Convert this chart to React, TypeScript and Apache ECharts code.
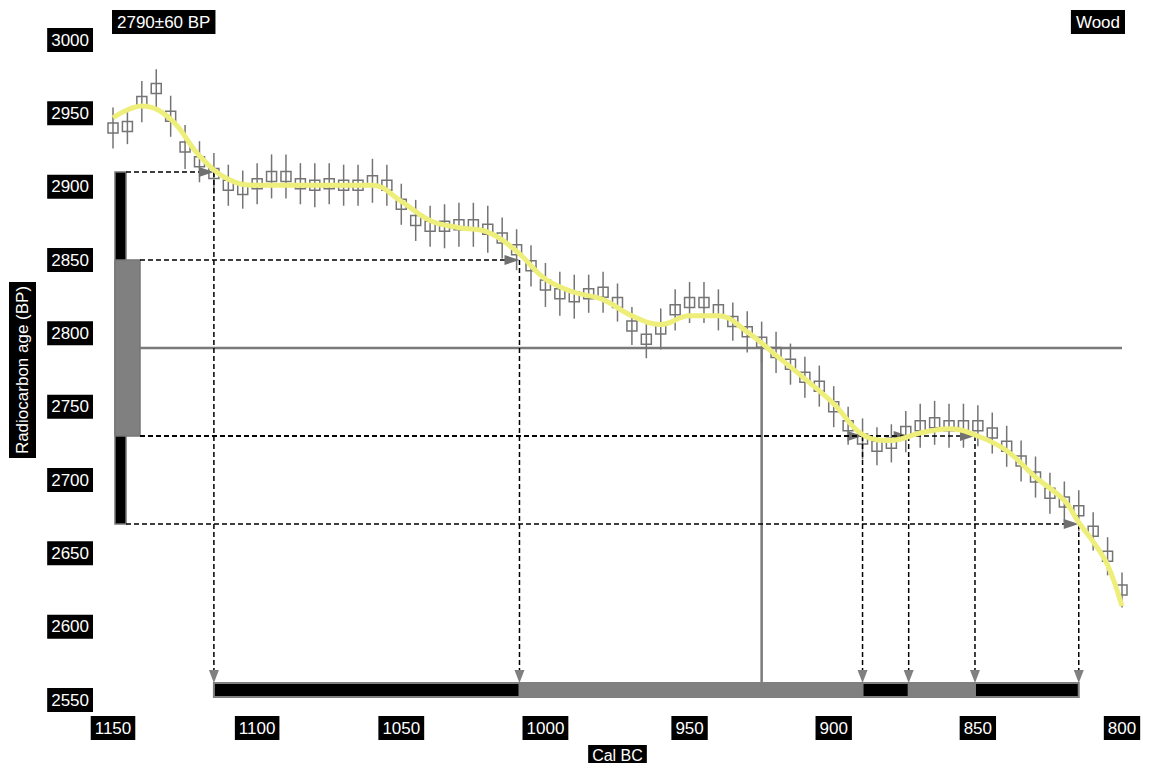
import React, { useEffect, useRef } from 'react';
import * as echarts from 'echarts';

// ---- sample ----
const SAMPLE_AGE = 2790;
const SAMPLE_ERR = 60;
const MATERIAL = 'Wood';

// ---- axes ----
const X_MIN = 800;
const X_MAX = 1150;
const Y_MIN = 2550;
const Y_MAX = 3000;
const TICK_STEP = 50;

// ---- calibration curve (yellow) ----
const curveYears = [1150, 1140, 1130, 1120, 1110, 1100, 1090, 1080, 1070, 1060, 1050, 1040, 1030, 1020, 1010, 1000, 990, 980, 970, 960, 950, 940, 930, 920, 910, 900, 890, 880, 870, 860, 850, 840, 830, 820, 815, 810, 805, 800];
const curveAges = [2947, 2955, 2946, 2921, 2905, 2901, 2901, 2901, 2901, 2901, 2890, 2877, 2872, 2869, 2856, 2837, 2828, 2823, 2812, 2806, 2812, 2812, 2801, 2785, 2769, 2752, 2731, 2727, 2732, 2735, 2730, 2720, 2702, 2686, 2671, 2658, 2642, 2614];

// ---- calibration data points (boxes with error bars) ----
const pointYears = [1150, 1145, 1140, 1135, 1130, 1125, 1120, 1115, 1110, 1105, 1100, 1095, 1090, 1085, 1080, 1075, 1070, 1065, 1060, 1055, 1050, 1045, 1040, 1035, 1030, 1025, 1020, 1015, 1010, 1005, 1000, 995, 990, 985, 980, 975, 970, 965, 960, 955, 950, 945, 940, 935, 930, 925, 920, 915, 910, 905, 900, 895, 890, 885, 880, 875, 870, 865, 860, 855, 850, 845, 840, 835, 830, 825, 820, 815, 810, 805, 800];
const pointAges = [2940, 2941, 2958, 2967, 2948, 2927, 2917, 2909, 2901, 2898, 2902, 2907, 2907, 2902, 2901, 2902, 2901, 2901, 2904, 2901, 2888, 2877, 2873, 2873, 2874, 2874, 2871, 2865, 2857, 2846, 2833, 2827, 2825, 2827, 2828, 2821, 2805, 2796, 2803, 2816, 2821, 2821, 2816, 2808, 2801, 2794, 2787, 2779, 2770, 2764, 2750, 2737, 2728, 2723, 2725, 2733, 2737, 2739, 2737, 2737, 2737, 2732, 2723, 2713, 2702, 2691, 2685, 2679, 2665, 2648, 2625];
const pointErrs = [14, 12, 14, 13, 14, 15, 14, 14, 14, 13, 14, 15, 15, 14, 15, 14, 14, 14, 15, 14, 14, 14, 14, 15, 15, 15, 16, 14, 14, 14, 15, 15, 15, 13, 14, 13, 13, 13, 14, 14, 14, 14, 14, 13, 14, 14, 14, 14, 14, 14, 14, 13, 14, 13, 13, 14, 15, 15, 15, 15, 14, 14, 14, 14, 14, 14, 14, 14, 13, 13, 12];

// ---- age ranges (BP) ----
const ageRange1Sigma = [2730, 2850];
const ageRange2Sigma = [2670, 2910];

// ---- calibrated ranges (BC) ----
const calRanges2Sigma = [[1115, 815]];
const calRanges1Sigma = [[1009, 890], [874, 851]];
const interceptYear = 925;

// range end points: [year, age, sigma]
const rangeEnds = [
  [1115, 2910, 2],
  [1009, 2850, 1],
  [890, 2730, 1],
  [874, 2730, 1],
  [851, 2730, 1],
  [815, 2670, 2],
];

const FONT = '"Liberation Sans", Arial, sans-serif';
const GREY = '#808080';
const BAR2_W = 11;
const BAR1_W = 25;
const BAR_OFF = 2;
const CALBAR_GAP = 17;
const CALBAR_H = 14;

const boxLabel = {
  color: '#fff',
  backgroundColor: '#000',
  padding: [4, 4, 3, 4],
  fontSize: 17,
  lineHeight: 17,
  fontFamily: FONT,
};

export default function App() {
  const ref = useRef<HTMLDivElement>(null);

  useEffect(() => {
    if (!ref.current) return;
    const chart = echarts.init(ref.current, null, { renderer: 'svg' });

    const option: any = {
      animation: false,
      backgroundColor: '#fff',
      title: [
        {
          text: `${SAMPLE_AGE}±${SAMPLE_ERR} BP`,
          left: 112,
          top: 10,
          padding: [4, 5, 3, 5],
          backgroundColor: '#000',
          textStyle: { color: '#fff', fontSize: 17, lineHeight: 17, fontWeight: 'normal', fontFamily: FONT },
        },
        {
          text: MATERIAL,
          right: 25,
          top: 10,
          padding: [4, 5, 3, 5],
          backgroundColor: '#000',
          textStyle: { color: '#fff', fontSize: 17, lineHeight: 17, fontWeight: 'normal', fontFamily: FONT },
        },
      ],
      grid: { left: 113, right: 28, top: 40, bottom: 63, containLabel: false, outerBoundsMode: 'none' },
      xAxis: {
        type: 'value',
        min: X_MIN,
        max: X_MAX,
        interval: TICK_STEP,
        inverse: true,
        axisLine: { show: false },
        axisTick: { show: false },
        splitLine: { show: false },
        axisLabel: { ...boxLabel, margin: 16, formatter: (v: number) => String(v) },
        name: 'Cal BC',
        nameLocation: 'middle',
        nameGap: 33,
        nameTextStyle: { ...boxLabel, fontSize: 16, lineHeight: 16, padding: [3, 4, 2, 4] },
      },
      yAxis: {
        type: 'value',
        min: Y_MIN,
        max: Y_MAX,
        interval: TICK_STEP,
        axisLine: { show: false },
        axisTick: { show: false },
        splitLine: { show: false },
        axisLabel: { ...boxLabel, margin: 20, formatter: (v: number) => String(v) },
        name: 'Radiocarbon age (BP)',
        nameLocation: 'middle',
        nameRotate: 90,
        nameGap: 77,
        nameTextStyle: { ...boxLabel, padding: [5, 4, 5, 4] },
      },
      series: [
        // left age distribution bars
        {
          type: 'custom',
          name: 'ageBars',
          silent: true,
          data: [
            [X_MAX, ageRange2Sigma[0], ageRange2Sigma[1], 2],
            [X_MAX, ageRange1Sigma[0], ageRange1Sigma[1], 1],
          ],
          encode: { x: 0, y: 1 },
          renderItem: (params: any, api: any) => {
            const lo = api.value(1);
            const hi = api.value(2);
            const s = api.value(3);
            const pTop = api.coord([X_MAX, hi]);
            const pBot = api.coord([X_MAX, lo]);
            return {
              type: 'rect',
              shape: {
                x: pTop[0] + BAR_OFF,
                y: pTop[1],
                width: s === 2 ? BAR2_W : BAR1_W,
                height: pBot[1] - pTop[1],
              },
              style: { fill: s === 2 ? '#000' : GREY, stroke: '#767676', lineWidth: 1.5 },
            };
          },
        },
        // sample age line and intercept
        {
          type: 'custom',
          name: 'sampleLine',
          silent: true,
          data: [[interceptYear, SAMPLE_AGE]],
          encode: { x: 0, y: 1 },
          renderItem: (params: any, api: any) => {
            const yr = api.value(0);
            const age = api.value(1);
            const p = api.coord([yr, age]);
            const left = api.coord([X_MAX, age])[0] + BAR_OFF + BAR1_W;
            const right = api.coord([X_MIN, age])[0];
            const barTop = api.coord([yr, Y_MIN])[1] - CALBAR_GAP;
            return {
              type: 'group',
              children: [
                { type: 'line', shape: { x1: left, y1: p[1], x2: right, y2: p[1] }, style: { stroke: '#7a7a7a', lineWidth: 2.5 } },
                { type: 'line', shape: { x1: p[0], y1: p[1], x2: p[0], y2: barTop }, style: { stroke: '#7a7a7a', lineWidth: 2.5 } },
              ],
            };
          },
        },
        // calibrated range bar at bottom
        {
          type: 'custom',
          name: 'calBar',
          silent: true,
          data: [
            ...calRanges2Sigma.map((r) => [r[0], r[1], 2]),
            ...calRanges1Sigma.map((r) => [r[0], r[1], 1]),
          ],
          encode: { x: 0 },
          renderItem: (params: any, api: any) => {
            const a = api.value(0);
            const b = api.value(1);
            const s = api.value(2);
            const pa = api.coord([a, Y_MIN]);
            const pb = api.coord([b, Y_MIN]);
            const top = pa[1] - CALBAR_GAP;
            return {
              type: 'rect',
              shape: { x: pa[0], y: top, width: pb[0] - pa[0], height: CALBAR_H },
              style: { fill: s === 2 ? '#000' : GREY, stroke: GREY, lineWidth: 2 },
            };
          },
        },
        // calibration curve
        {
          type: 'line',
          name: 'curve',
          silent: true,
          data: curveYears.map((y, i) => [y, curveAges[i]]),
          smooth: 0.4,
          showSymbol: false,
          symbol: 'none',
          lineStyle: { color: '#eeee7a', width: 5 },
        },
        // calibration data points
        {
          type: 'custom',
          name: 'points',
          silent: true,
          data: pointYears.map((y, i) => [y, pointAges[i], pointErrs[i]]),
          encode: { x: 0, y: 1 },
          renderItem: (params: any, api: any) => {
            const yr = api.value(0);
            const v = api.value(1);
            const e = api.value(2);
            const c = api.coord([yr, v]);
            const t = api.coord([yr, v + e]);
            const b = api.coord([yr, v - e]);
            return {
              type: 'group',
              children: [
                { type: 'line', shape: { x1: c[0], y1: t[1], x2: c[0], y2: b[1] }, style: { stroke: '#747474', lineWidth: 1.5 } },
                { type: 'rect', shape: { x: c[0] - 5, y: c[1] - 5, width: 10, height: 10 }, style: { fill: 'none', stroke: '#747474', lineWidth: 1.5 } },
              ],
            };
          },
        },
        // dashed guides with arrows
        {
          type: 'custom',
          name: 'guides',
          silent: true,
          data: rangeEnds,
          encode: { x: 0, y: 1 },
          renderItem: (params: any, api: any) => {
            const yr = api.value(0);
            const age = api.value(1);
            const s = api.value(2);
            const p = api.coord([yr, age]);
            const xStart = api.coord([X_MAX, age])[0] + BAR_OFF + (s === 2 ? BAR2_W : BAR1_W);
            const barTop = api.coord([yr, Y_MIN])[1] - CALBAR_GAP;
            const dash = { stroke: '#000', lineWidth: 1.5, lineDash: [5, 3] };
            return {
              type: 'group',
              children: [
                { type: 'line', shape: { x1: xStart, y1: p[1], x2: p[0] - 12, y2: p[1] }, style: dash },
                { type: 'line', shape: { x1: p[0], y1: p[1], x2: p[0], y2: barTop - 12 }, style: dash },
                {
                  type: 'polygon',
                  shape: { points: [[p[0], p[1]], [p[0] - 15, p[1] - 5], [p[0] - 15, p[1] + 5]] },
                  style: { fill: '#707070' },
                },
                {
                  type: 'polygon',
                  shape: { points: [[p[0], barTop], [p[0] - 5, barTop - 13], [p[0] + 5, barTop - 13]] },
                  style: { fill: '#808080' },
                },
              ],
            };
          },
        },
      ],
    };

    chart.setOption(option);
    return () => chart.dispose();
  }, []);

  return (
    <div
      ref={ref}
      style={{ position: 'fixed', left: 0, top: 0, width: 1150, height: 763, background: '#fff' }}
    />
  );
}
